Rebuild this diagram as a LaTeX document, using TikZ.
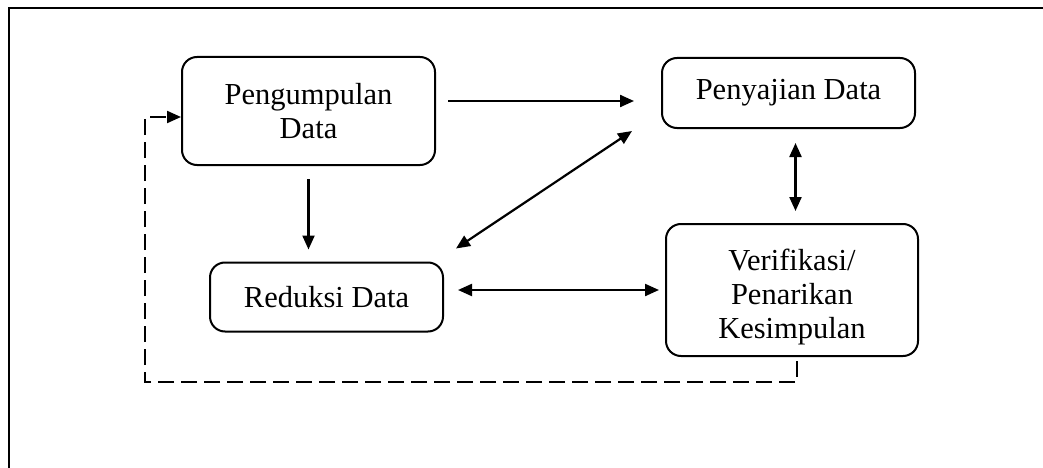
\documentclass[tikz,border=0pt]{standalone}
\usepackage{fontspec}
\setmainfont{Liberation Serif}
\usetikzlibrary{arrows.meta, positioning}

\begin{document}
\begin{tikzpicture}[x=1pt, y=-1pt,
		kotak/.style = {draw, line width=2pt, rounded corners=15pt, align=center, inner sep=0pt,
			font=\fontsize{30.5}{34}\selectfont},
		panah/.style = {line width=2.2pt, -{Triangle[length=14pt, width=12pt]}},
		panahdua/.style = {line width=2.2pt, {Triangle[length=14pt, width=12pt]}-{Triangle[length=14pt, width=12pt]}}]
				\useasboundingbox (0,0) rectangle (1043,468);
				\draw[line width=1.4pt] (9,470) -- (9,8) -- (1045,8);
				\node[kotak, minimum width=253pt, minimum height=108pt] (kumpul) at (308.5,111) {Pengumpulan\\Data};
				\node[kotak, minimum width=253pt, minimum height=70pt] (saji) at (788.5,93) {Penyajian Data};
				\node[kotak, minimum width=233pt, minimum height=69pt] (reduksi) at (326.5,297) {Reduksi Data};
				\node[kotak, minimum width=252pt, minimum height=132pt] (simpul) at (792,290) {};
				\node[align=center, inner sep=0pt, font=\fontsize{30.5}{34}\selectfont] (simpulteks) at (792,297) {Verifikasi/\\Penarikan\\Kesimpulan};
				\draw[panah, shorten <=12pt, shorten >=27pt] ([yshift=10pt]kumpul.east) -- ([yshift=10pt]kumpul.east -| saji.west);
				\draw[panah, shorten <=13pt, shorten >=12pt] (kumpul.south) -- (kumpul.south |- reduksi.north);
				\draw[panahdua] ([shift={(12pt,13pt)}]reduksi.north east) -- ([shift={(-29pt,-2pt)}]saji.south west);
				\draw[panahdua, shorten <=14pt, shorten >=12pt] ([xshift=7pt]saji.south) -- ([xshift=7pt]saji.south |- simpul.north);
				\draw[panahdua, shorten <=14pt, shorten >=6pt] (simpul.west -| reduksi.east) -- (simpul.west);
				\coordinate (balik) at (145,382);
				\draw[panah, dash pattern=on 16pt off 7pt, shorten <=4pt] ([xshift=5pt]simpul.south) |- (balik) |- ([yshift=-6pt]kumpul.west);
			\end{tikzpicture}
\end{document}
